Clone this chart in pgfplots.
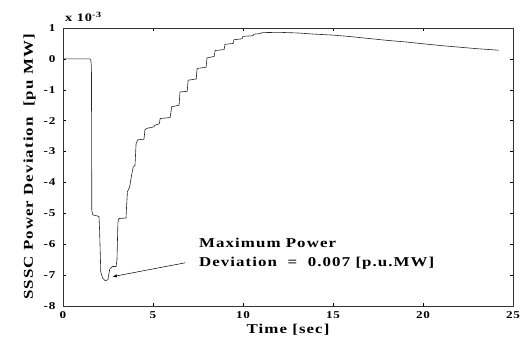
\documentclass[border=0pt]{standalone}
\usepackage{pgfplots}
\pgfplotsset{compat=1.18}
\usepackage{fontspec}
\setmainfont{Liberation Serif}[FakeStretch=1.25,LetterSpace=8]
\begin{document}
\begin{tikzpicture}
\begin{axis}[
  scale only axis,
  width=450pt, height=278pt,
  xmin=0, xmax=25, ymin=-8, ymax=1,
  xtick={0,5,...,25}, ytick={-8,-7,...,1},
  tick align=inside,
  major tick length=3pt,
  axis line style={black!80, line width=0.5pt},
  tick style={black, line width=0.5pt},
  /pgf/number format/assume math mode=true,
  ticklabel style={font=\fontsize{10.5}{12}\selectfont\bfseries},
  xticklabel style={yshift=-2pt},
  yticklabel style={xshift=-4pt},
  xlabel={Time [sec]},
  ylabel={SSSC Power Deviation\ \ [pu MW]},
  label style={font=\fontsize{13.5}{16}\selectfont\bfseries},
  xlabel style={yshift=1pt},
  ylabel style={yshift=1pt},
  clip=false,
]
\addplot[black!85, line width=0.6pt] coordinates {
(0,0)(1.5,0)(1.55,-0.05)(1.58,-0.3)(1.6,-4.9)(1.65,-5.05)(2.0,-5.1)(2.03,-5.5)(2.1,-6.9)(2.2,-7.1)(2.35,-7.18)(2.5,-7.15)(2.55,-6.95)(2.6,-6.8)(2.75,-6.72)(2.95,-6.72)(3.0,-6.5)(3.05,-5.3)(3.1,-5.17)(3.5,-5.15)(3.53,-4.8)(3.58,-4.3)(3.7,-4.15)(3.8,-3.8)(3.9,-3.5)(4.0,-3.45)(4.06,-2.75)(4.15,-2.62)(4.5,-2.6)(4.55,-2.3)(4.65,-2.25)(5.05,-2.2)(5.1,-2.15)(5.35,-2.1)(5.4,-1.93)(5.95,-1.9)(6.04,-1.55)(6.45,-1.5)(6.5,-1.07)(6.9,-1.05)(6.95,-0.69)(7.4,-0.65)(7.45,-0.31)(7.95,-0.27)(8.0,0.03)(8.4,0.08)(8.45,0.27)(8.95,0.3)(9.0,0.47)(9.45,0.5)(9.5,0.62)(9.95,0.65)(10.0,0.73)(10.55,0.75)(10.6,0.8)(11.0,0.82)(11.05,0.85)(12,0.86)(13,0.84)(14,0.8)(15,0.77)(16,0.72)(17,0.66)(18,0.6)(19,0.55)(20,0.49)(21,0.43)(22,0.38)(23,0.33)(24.2,0.28)
};
\node[anchor=south west, font=\fontsize{11.5}{13}\selectfont\bfseries, inner sep=0pt] at (axis cs:0,1) [xshift=2pt,yshift=6pt] {x 10\textsuperscript{-3}};
\node[anchor=west, align=left, inner sep=0pt, font=\fontsize{13.5}{19}\selectfont\bfseries] at (axis cs:7.55,-6.3) {Maximum Power\\Deviation\ \ =\ \ 0.007 [p.u.MW]};
\draw[-latex, black, line width=0.5pt] (axis cs:6.8,-6.6) -- (axis cs:2.75,-7.05);
\end{axis}
\path[use as bounding box] ([xshift=-63pt,yshift=-35pt]current axis.south west) rectangle ([xshift=15pt,yshift=28pt]current axis.north east);
\end{tikzpicture}
\end{document}
